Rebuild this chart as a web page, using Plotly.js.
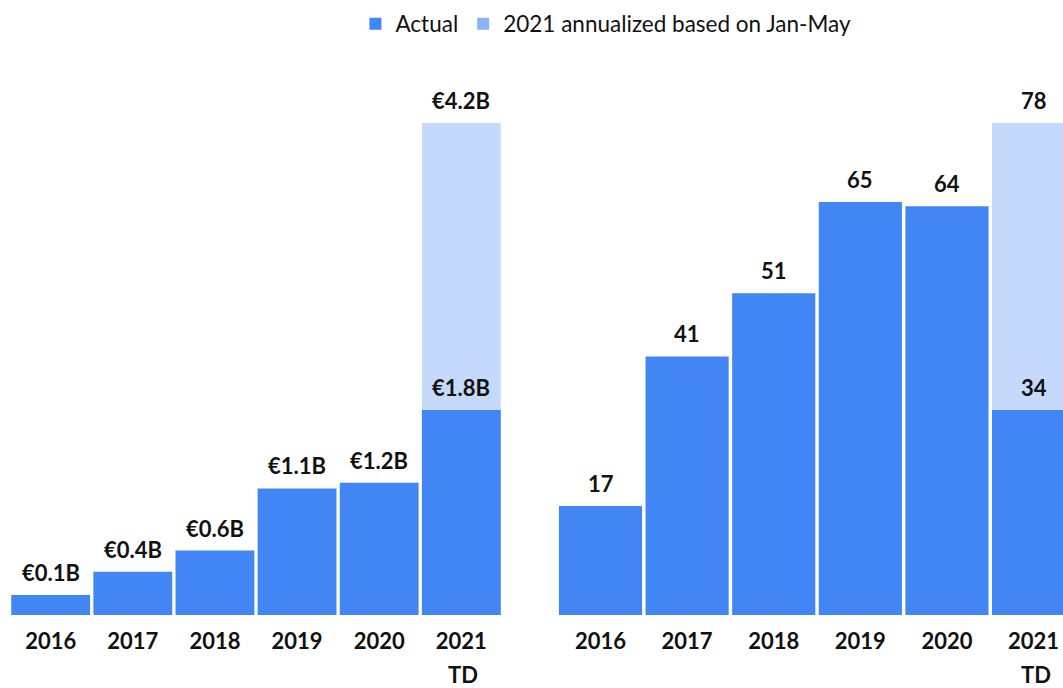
<!DOCTYPE html>
<html>
<head>
<meta charset="utf-8">
<script src="https://cdn.plot.ly/plotly-3.0.1.min.js"></script>
<style>html,body{margin:0;padding:0;background:#fff;}#chart{width:1063px;height:688px;}</style>
</head>
<body>
<div id="chart"></div>
<script>
// Data
var years = ['2016', '2017', '2018', '2019', '2020', '2021'];
var yearSubLabels = ['', '', '', '', '', 'TD'];
var amountActual = [0.17, 0.37, 0.55, 1.08, 1.13, 1.75];
var amountActualLabels = ['€0.1B', '€0.4B', '€0.6B', '€1.1B', '€1.2B', '€1.8B'];
var amountAnnualized = [null, null, null, null, null, 4.2];
var amountAnnualizedLabels = ['', '', '', '', '', '€4.2B'];
var countActual = [17.3, 41, 51, 65.5, 64.8, 32.5];
var countActualLabels = ['17', '41', '51', '65', '64', '34'];
var countAnnualized = [null, null, null, null, null, 78];
var countAnnualizedLabels = ['', '', '', '', '', '78'];

var blue = '#4285F4';
var lightBlue = '#8AB4F8';
var fontFam = 'Lato, "Noto Sans", sans-serif';
var labelFont = {family: fontFam, size: 22, color: '#111', weight: 'bold'};

var data = [
  {type: 'bar', name: '2021 annualized based on Jan-May', x: years, y: amountAnnualized,
   xaxis: 'x', yaxis: 'y', marker: {color: lightBlue, opacity: 0.5},
   hoverinfo: 'none', legendrank: 2},
  {type: 'bar', name: 'Actual', x: years, y: amountActual,
   xaxis: 'x', yaxis: 'y', marker: {color: blue},
   hoverinfo: 'none', legendrank: 1},
  {type: 'bar', name: '2021 annualized based on Jan-May', x: years, y: countAnnualized,
   xaxis: 'x2', yaxis: 'y2', marker: {color: lightBlue, opacity: 0.5},
   hoverinfo: 'none', showlegend: false},
  {type: 'bar', name: 'Actual', x: years, y: countActual,
   xaxis: 'x2', yaxis: 'y2', marker: {color: blue},
   hoverinfo: 'none', showlegend: false}
];

// value labels above bars, driven by the data arrays (x = category index)
var annotations = [];
function addLabels(ys, labels, xref, yref) {
  for (var i = 0; i < years.length; i++) {
    if (ys[i] === null || !labels[i]) continue;
    annotations.push({x: i, y: ys[i], xref: xref, yref: yref, text: labels[i],
      showarrow: false, xanchor: 'center', yanchor: 'bottom', yshift: 7, font: labelFont});
  }
}
addLabels(amountActual, amountActualLabels, 'x', 'y');
addLabels(amountAnnualized, amountAnnualizedLabels, 'x', 'y');
addLabels(countActual, countActualLabels, 'x2', 'y2');
addLabels(countAnnualized, countAnnualizedLabels, 'x2', 'y2');
// second line of the 2021 tick labels
function addSub(xref) {
  for (var i = 0; i < years.length; i++) {
    if (!yearSubLabels[i]) continue;
    annotations.push({x: i, y: 0, xref: xref, yref: 'paper', text: yearSubLabels[i],
      showarrow: false, xanchor: 'center', yanchor: 'top', yshift: -45, xshift: 2,
      borderpad: 0, font: labelFont});
  }
}
addSub('x');
addSub('x2');

var tickFont = {family: fontFam, size: 22, color: '#111', weight: 'bold'};
var layout = {
  width: 1063, height: 688,
  margin: {l: 0, r: 0, t: 60, b: 73},
  paper_bgcolor: '#fff', plot_bgcolor: '#fff',
  barmode: 'overlay', bargap: 0.04,
  font: {family: fontFam, color: '#111'},
  showlegend: true,
  legend: {orientation: 'h', x: 0.57, xanchor: 'center', xref: 'container',
           y: 0.965, yanchor: 'middle', yref: 'container',
           font: {family: fontFam, size: 22.5, color: '#111'}, itemclick: false},
  annotations: annotations,
  xaxis: {type: 'category', domain: [9.6/1063, 502.4/1063], range: [-0.5, 5.5], showgrid: false, zeroline: false,
          showline: false, ticks: '', tickfont: tickFont, ticklabelstandoff: 11, fixedrange: true},
  yaxis: {domain: [0, 1], range: [0, 4.738], visible: false, fixedrange: true},
  xaxis2: {type: 'category', domain: [557.2/1063, 1], range: [-0.5, 5.34], anchor: 'y2', showgrid: false, zeroline: false,
           showline: false, ticks: '', tickfont: tickFont, ticklabelstandoff: 11, fixedrange: true},
  yaxis2: {domain: [0, 1], range: [0, 88], anchor: 'x2', visible: false, fixedrange: true}
};

Plotly.newPlot('chart', data, layout, {displayModeBar: false, staticPlot: true});
</script>
</body>
</html>
